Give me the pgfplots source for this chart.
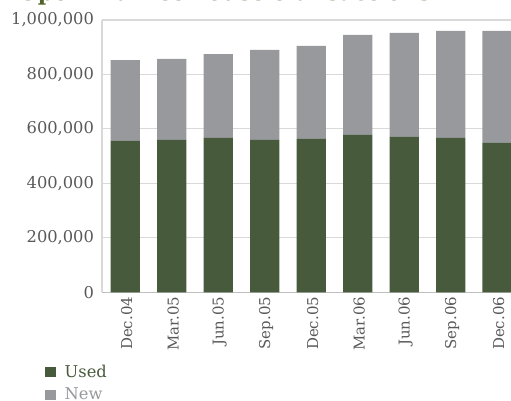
\documentclass[border=0pt]{standalone}
\usepackage{pgfplots}
\pgfplotsset{compat=1.18}
\usepackage{fontspec}
\setmainfont{DejaVu Serif}
\definecolor{usedc}{RGB}{71,90,59}
\definecolor{newc}{RGB}{152,153,157}
\definecolor{titc}{RGB}{79,98,40}
\definecolor{lab}{RGB}{89,89,89}
\definecolor{gridc}{RGB}{217,217,217}
\definecolor{axc}{RGB}{191,191,191}
\begin{document}
\begin{tikzpicture}[x=1pt,y=1pt]
\begin{axis}[
  scale only axis, width=306.75pt, height=204.2pt,
  ybar stacked, bar width=0.634,
  xmin=-0.5, xmax=8.296, ymin=0, ymax=1000000,
  xtick={0,1,2,3,4,5,6,7,8},
  xticklabels={Dec.04,Mar.05,Jun.05,Sep.05,Dec.05,Mar.06,Jun.06,Sep.06,Dec.06},
  x tick label style={rotate=90, anchor=east, font=\fontsize{11.2}{13}\selectfont, text=lab, yshift=-1pt},
  ytick={0,200000,400000,600000,800000,1000000},
  y tick label style={font=\fontsize{12.2}{14}\selectfont, text=lab, xshift=-2.5pt},
  scaled y ticks=false,
  yticklabel style={/pgf/number format/.cd, fixed, 1000 sep={,}, assume math mode=true},
  ymajorgrids, grid style={draw=gridc, line width=0.8pt},
  axis lines*=left, axis line style={-},
  x axis line style={draw=axc, line width=0.8pt},
  y axis line style={draw=gridc, line width=0.8pt},
  major tick length=0pt,
  legend style={at={(-0.139,-0.256)}, anchor=north west, draw=none, fill=none,
    font=\fontsize{12.2}{14}\selectfont, inner sep=0pt, row sep=2.5pt},
  legend cell align=left,
  legend image code/.code={\fill[#1] (0pt,-3.5pt) rectangle (8.25pt,3.5pt); \path (12.5pt,0pt);},
]
\addplot[fill=usedc, draw=none] coordinates {(0,556000) (1,560000) (2,567000) (3,560000) (4,563000) (5,578000) (6,571000) (7,567000) (8,549000)};
\addlegendentry{\textcolor{usedc}{Used}}
\addplot[fill=newc, draw=none] coordinates {(0,297000) (1,297000) (2,308000) (3,330000) (4,342000) (5,367000) (6,382000) (7,393000) (8,411000)};
\addlegendentry{\textcolor{newc}{New}}
\end{axis}
\node[anchor=base west, font=\fontsize{16.9}{19}\selectfont\bfseries, text=titc, inner sep=0pt] at (-63,218.6) {Open market house transactions};
\pgfresetboundingbox
\useasboundingbox (-76.5,-81.5) rectangle (306.75,219.2);
\end{tikzpicture}
\end{document}
